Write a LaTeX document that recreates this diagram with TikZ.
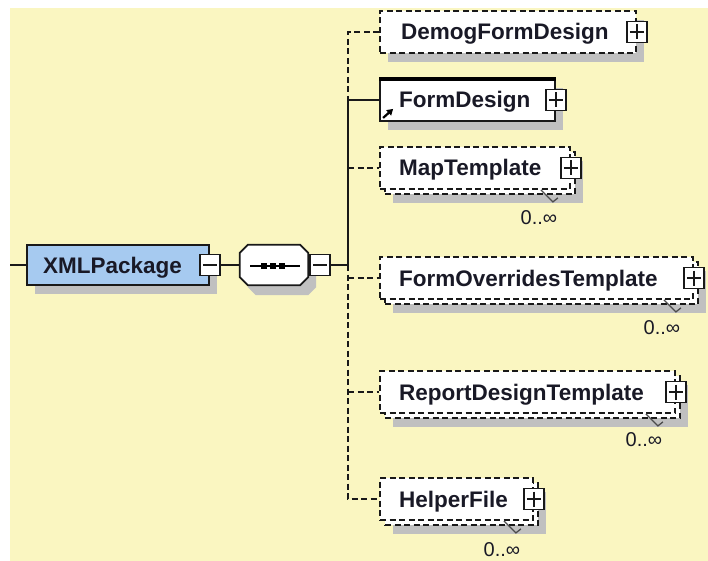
\documentclass[tikz,border=0pt]{standalone}
\usepackage{fontspec}
\setmainfont{Liberation Sans}
\usetikzlibrary{shadows,arrows.meta,calc}
\definecolor{bgyellow}{RGB}{250,246,193}
\definecolor{xblue}{RGB}{166,202,240}
\definecolor{shgray}{RGB}{192,192,192}
\definecolor{txt}{RGB}{25,25,38}
\tikzset{
  conn/.style={line width=1.8pt, draw=black!90},
  dconn/.style={conn, dash pattern=on 6pt off 3.5pt},
  box/.style={rectangle, draw=black!90, line width=1.8pt, fill=white, inner sep=0pt, minimum height=42pt},
  optbox/.style={box, dash pattern=on 6pt off 3.5pt},
  shadowed/.style={general shadow={fill=shgray, shadow xshift=8pt, shadow yshift=-9pt}},
  pmbox/.style={rectangle, solid, draw=black!90, fill=white, line width=1.7pt, minimum width=20pt, minimum height=21pt, inner sep=0pt},
  minusbox/.style={pmbox, path picture={\draw[line width=1.7pt] ($(path picture bounding box.west)+(3,0)$) -- ($(path picture bounding box.east)+(-3,0)$);}},
  plusbox/.style={pmbox, path picture={\draw[line width=1.7pt] ($(path picture bounding box.west)+(3,0)$) -- ($(path picture bounding box.east)+(-3,0)$);
     \draw[line width=1.7pt] ($(path picture bounding box.north)+(0,3)$) -- ($(path picture bounding box.south)+(0,-3)$);}},
  etext/.style={font=\bfseries\fontsize{22.5}{26}\selectfont, text=txt, inner sep=0pt, anchor=base west},
  multlab/.style={font=\fontsize{20}{23}\selectfont, text=txt, inner sep=0pt},
  notch/.style={line width=1.3pt, draw=black!70},
}
\begin{document}
\begin{tikzpicture}[x=1pt,y=-1pt]
\useasboundingbox (0,0) rectangle (708,561);
\fill[white] (0,0) rectangle (708,561);
\fill[bgyellow] (10,8) rectangle (708,561);

% root element
\node[box, fill=xblue, minimum width=182pt, minimum height=40pt, shadowed] (xml) at (118,265) {};
\node[etext] (xmlT) at (43,273) {XMLPackage};
\node[minusbox] (xmlM) at (xml.east) {};

% sequence compositor
\node[minimum width=68pt, minimum height=40pt, inner sep=0pt] (comp) at (274,265) {};
\fill[shgray] ($(comp.north west)+(16,10)$) -- ($(comp.north east)+(0,10)$) -- ($(comp.north east)+(8,18)$) -- ($(comp.south east)+(8,2)$) -- ($(comp.south east)+(0,10)$) -- ($(comp.south west)+(16,10)$) -- ($(comp.south west)+(8,2)$) -- ($(comp.north west)+(8,18)$) -- cycle;
\filldraw[fill=white, draw=black!90, line width=1.8pt] ($(comp.north west)+(8,0)$) -- ($(comp.north east)+(-8,0)$) -- ($(comp.north east)+(0,8)$) -- ($(comp.south east)+(0,-8)$) -- ($(comp.south east)+(-8,0)$) -- ($(comp.south west)+(8,0)$) -- ($(comp.south west)+(0,-8)$) -- ($(comp.north west)+(0,8)$) -- cycle;
\draw[line width=1.7pt] ($(comp.center)+(-24,1)$) -- ($(comp.center)+(26,1)$);
\foreach \dx in {-10,-1,8} {
  \fill ($(comp.center)+(\dx-3,-2)$) rectangle ($(comp.center)+(\dx+3,4)$);
}
\node[minusbox, anchor=west] (compM) at ($(comp.east)+(1,0)$) {};

% bus coordinates
\coordinate (lstart) at (10,265);
\coordinate (busT) at (348,32);
\coordinate (busF) at (348,100);
\coordinate (busC) at (348,265);
\coordinate (busB) at (348,499);

% DemogFormDesign
\node[optbox, shadowed, minimum width=256pt] (demog) at (508,32) {};
\node[etext] (demogT) at (401,40) {DemogFormDesign};
\node[plusbox] (demogP) at (demog.east) {};

% FormDesign
\node[box, shadowed, minimum width=175pt] (form) at (467.5,100) {};
\draw[line width=3.4pt] ($(form.north west)+(0,1)$) -- ($(form.north east)+(0,1)$);
\draw[line width=2.2pt, -{Triangle[length=6pt,width=7pt]}] ($(form.south west)+(4,-4)$) -- ++(10,-9);
\node[etext] (formT) at (399,108) {FormDesign};
\node[plusbox] (formP) at (form.east) {};

% MapTemplate
\node[optbox, shadowed, minimum width=190pt] (mapB) at (480,173) {};
\node[optbox, minimum width=190pt] (map) at (475,168) {};
\node[etext] (mapT) at (399,176) {MapTemplate};
\node[plusbox] (mapP) at (map.east) {};
\draw[notch] ($(map.south east)+(-30,0)$) -- ++(12,12) -- ++(5,-4);
\node[multlab] (mapL) at ($(map.east)+(-32,50)$) {0..∞};

% FormOverridesTemplate
\node[optbox, shadowed, minimum width=313pt] (foB) at (541.5,283) {};
\node[optbox, minimum width=313pt] (fo) at (536.5,278) {};
\node[etext] (foT) at (399,286) {FormOverridesTemplate};
\node[plusbox] (foP) at (fo.east) {};
\draw[notch] ($(fo.south east)+(-30,0)$) -- ++(12,12) -- ++(5,-4);
\node[multlab] (foL) at ($(fo.east)+(-32,50)$) {0..∞};

% ReportDesignTemplate
\node[optbox, shadowed, minimum width=295pt] (repB) at (532.5,397) {};
\node[optbox, minimum width=295pt] (rep) at (527.5,392) {};
\node[etext] (repT) at (399,400) {ReportDesignTemplate};
\node[plusbox] (repP) at (rep.east) {};
\draw[notch] ($(rep.south east)+(-30,0)$) -- ++(12,12) -- ++(5,-4);
\node[multlab] (repL) at ($(rep.east)+(-32,48)$) {0..∞};

% HelperFile
\node[optbox, shadowed, minimum width=153pt] (helpB) at (461.5,504) {};
\node[optbox, minimum width=153pt] (help) at (456.5,499) {};
\node[etext] (helpT) at (399,507) {HelperFile};
\node[plusbox] (helpP) at (help.east) {};
\draw[notch] ($(help.south east)+(-30,0)$) -- ++(12,12) -- ++(5,-4);
\node[multlab] (helpL) at ($(help.east)+(-32,51)$) {0..∞};

% connectors
\draw[conn] (lstart) -- (xml.west);
\draw[conn] (xmlM.east) -- (comp.west);
\draw[conn] (compM.east) -- (busC);
\draw[dconn] (demog.west) -- (busT) -- (busF);
\draw[conn] (busF) -- (busC);
\draw[conn] (busF) -- (form.west);
\draw[dconn] (busC) -- (busB) -- (help.west);
\draw[dconn] (busC |- map.west) -- (map.west);
\draw[dconn] (busC |- fo.west) -- (fo.west);
\draw[dconn] (busC |- rep.west) -- (rep.west);
\end{tikzpicture}
\end{document}
